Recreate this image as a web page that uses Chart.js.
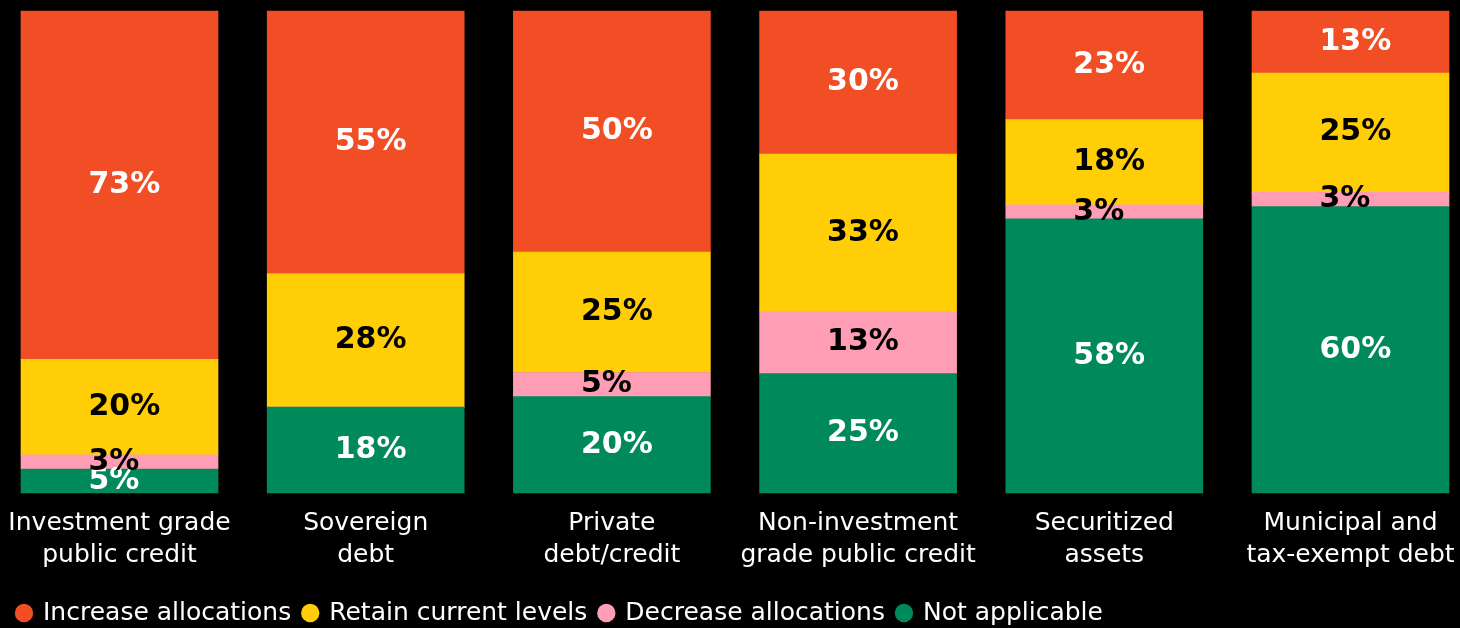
<!DOCTYPE html>
<html>
<head>
<meta charset="utf-8">
<script src="https://cdn.jsdelivr.net/npm/chart.js@4.4.1/dist/chart.umd.min.js"></script>
<style>
  html, body { margin: 0; padding: 0; background: #000; overflow: hidden; }
  #wrap { width: 1460px; height: 628px; position: relative; }
</style>
</head>
<body>
<div id="wrap"><canvas id="allocChart"></canvas></div>
<script>
// survey answers, % of respondents per asset class
const categories = [
  ['Investment grade', 'public credit'],
  ['Sovereign', 'debt'],
  ['Private', 'debt/credit'],
  ['Non-investment', 'grade public credit'],
  ['Securitized', 'assets'],
  ['Municipal and', 'tax-exempt debt']
];
const increaseAlloc = [73, 55, 50, 30, 23, 13];
const retainLevels  = [20, 28, 25, 33, 18, 25];
const decreaseAlloc = [3, 0, 5, 13, 3, 3];
const notApplicable = [5, 18, 20, 25, 58, 60];

// totals don't always hit 100 because of rounding, so every bar gets scaled to full height
const totals = categories.map((c, i) => increaseAlloc[i] + retainLevels[i] + decreaseAlloc[i] + notApplicable[i]);
const toShare = arr => arr.map((v, i) => v / totals[i] * 100);

const labelFont = '"DejaVu Sans", sans-serif';

// draws the % labels inside every segment
const segmentLabels = {
  id: 'segmentLabels',
  afterDatasetsDraw(chart) {
    const ctx = chart.ctx;
    ctx.save();
    ctx.font = 'bold 30px ' + labelFont;
    ctx.textAlign = 'left';
    ctx.textBaseline = 'middle';
    chart.data.datasets.forEach((ds, di) => {
      const meta = chart.getDatasetMeta(di);
      meta.data.forEach((bar, i) => {
        const raw = ds.rawValues[i];
        if (!raw) return;
        ctx.fillStyle = ds.labelColor;
        ctx.fillText(raw + '%', bar.x - 31, (bar.y + bar.base) / 2);
      });
    });
    ctx.restore();
  }
};

new Chart('allocChart', {
  type: 'bar',
  data: {
    labels: categories,
    datasets: [
      { label: 'Not applicable', data: toShare(notApplicable), rawValues: notApplicable,
        backgroundColor: 'rgb(0,138,92)', labelColor: '#fff' },
      { label: 'Decrease allocations', data: toShare(decreaseAlloc), rawValues: decreaseAlloc,
        backgroundColor: 'rgb(255,157,180)', labelColor: '#000' },
      { label: 'Retain current levels', data: toShare(retainLevels), rawValues: retainLevels,
        backgroundColor: 'rgb(255,206,7)', labelColor: '#000' },
      { label: 'Increase allocations', data: toShare(increaseAlloc), rawValues: increaseAlloc,
        backgroundColor: 'rgb(242,78,37)', labelColor: '#fff' }
    ]
  },
  options: {
    responsive: true,
    maintainAspectRatio: false,
    animation: false,
    datasets: { bar: { barThickness: 197, borderWidth: 0, clip: false } },
    layout: { padding: { top: 11, bottom: -7.5, left: 5, right: 109.5 } },
    scales: {
      x: {
        stacked: true,
        offset: false,
        grid: { display: false, drawTicks: false },
        border: { display: false },
        ticks: {
          color: '#fff',
          padding: 14,
          autoSkip: false,
          maxRotation: 0,
          font: { family: labelFont, size: 25, lineHeight: 1.28 }
        },
        // fixed height, and no extra room for the wide edge labels
        afterFit: s => { s.height = 95; s.paddingLeft = 0; s.paddingRight = 0; }
      },
      y: {
        stacked: true,
        min: 0,
        max: 100,
        grid: { display: false },
        border: { display: false },
        ticks: { display: false },
        afterFit: s => { s.width = 114.5; }
      }
    },
    plugins: {
      tooltip: { enabled: false },
      legend: {
        position: 'bottom',
        align: 'start',
        reverse: true,
        labels: {
          color: '#fff',
          usePointStyle: true,
          pointStyle: 'circle',
          boxHeight: 13,
          boxWidth: 13,
          padding: 12.5,
          font: { family: labelFont, size: 25 }
        }
      }
    }
  },
  plugins: [segmentLabels]
});
</script>
</body>
</html>
